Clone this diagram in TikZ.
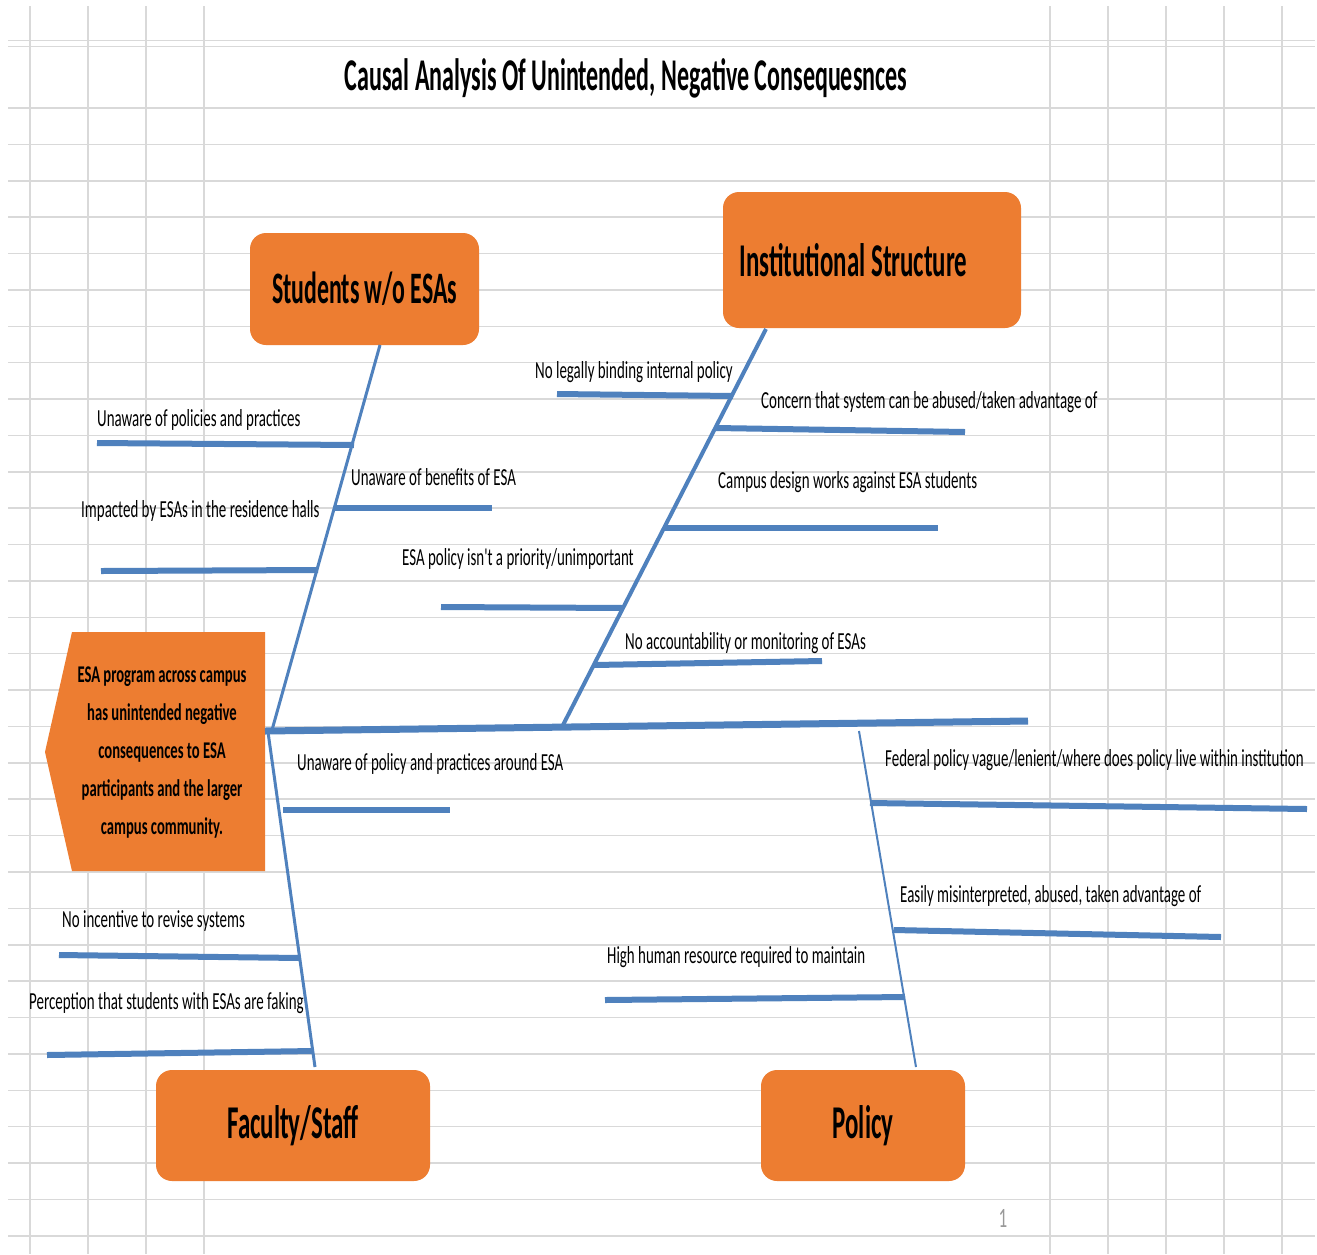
\documentclass[tikz,border=0pt]{standalone}
\usepackage{fontspec}
\newfontfamily\lblfont{Carlito}[FakeStretch=0.61]
\newfontfamily\bigfont{Carlito}[FakeStretch=0.53]
\definecolor{fishorange}{RGB}{237,125,49}
\definecolor{fishblue}{RGB}{79,129,189}
\definecolor{gridgray}{RGB}{217,217,217}
\tikzset{
  gridline/.style={draw=gridgray, line width=1.5pt},
  spine/.style={draw=fishblue, line width=7pt},
  bone/.style={draw=fishblue, line width=3pt},
  rib/.style={draw=fishblue, line width=6pt},
  catbox/.style={fill=fishorange, rounded corners=16pt, inner sep=0pt,
    font=\bigfont\bfseries\fontsize{47}{50}\selectfont},
  lbl/.style={font=\lblfont\fontsize{24.5}{26}\selectfont, inner sep=0pt, anchor=west},
}
\begin{document}
\begin{tikzpicture}[x=1pt,y=-1pt]
\useasboundingbox (0,0) rectangle (1317,1254);
\fill[white] (0,0) rectangle (1317,1254);
% grid
\foreach \yy in {40.5,46.5} \draw[gridline] (8,\yy) -- (1315,\yy);
\foreach \k in {0,...,31} \draw[gridline] (8,108+36.38*\k) -- (1315,108+36.38*\k);
\foreach \xx in {30,88,146,204,1050,1108,1166,1224,1282} \draw[gridline] (\xx,6) -- (\xx,1254);

% title
\node[font=\bigfont\bfseries\fontsize{45.4}{48}\selectfont, inner sep=0pt] (title) at (626,78.5) {Causal Analysis Of Unintended, Negative Consequesnces};

% category boxes
\node[catbox, minimum width=229, minimum height=112, font=\bigfont\bfseries\fontsize{45}{48}\selectfont] (stu) at (364.5,289) {Students w/o ESAs};
\node[catbox, minimum width=298, minimum height=136] (inst) at (872,260) {\mbox{Institutional Structure}\hspace*{37pt}};
\node[catbox, minimum width=274, minimum height=111] (fac) at (293,1125.5) {Faculty/Staff};
\node[catbox, minimum width=204, minimum height=111] (pol) at (863,1125.5) {Policy};

% head
\fill[fishorange] (72,632) -- (265,632) -- (265,871) -- (72,871) -- (45,752) -- cycle;
\node[font=\lblfont\bfseries\fontsize{24}{38}\selectfont, align=center, inner sep=0pt] (head) at (162,753)
  {ESA program across campus\\has unintended negative\\consequences to ESA\\participants and the larger\\campus community.};

% spine and bones
\coordinate (spL) at (265,731);
\coordinate (spR) at (1028,721);
\draw[spine] (spL) -- (spR);

\coordinate (stuTop) at (380,345);  \coordinate (stuEnd) at (272,730);
\coordinate (instTop) at (766,329); \coordinate (instEnd) at (563,725);
\coordinate (facStart) at (268,732); \coordinate (facEnd) at (315,1067);
\coordinate (polStart) at (859,731); \coordinate (polEnd) at (916,1067);
\draw[bone] (stuTop) -- (stuEnd);
\draw[bone, line width=4pt] (instTop) -- (instEnd);
\draw[bone] (facStart) -- (facEnd);
\draw[bone, line width=2pt] (polStart) -- (polEnd);

% ribs: Students
\coordinate (a1) at (97,443);  \coordinate (b1) at (354,445);
\coordinate (a2) at (335,508); \coordinate (b2) at (492,508);
\coordinate (a3) at (101,571); \coordinate (b3) at (318,570);
% ribs: Institutional
\coordinate (a4) at (557,394); \coordinate (b4) at (733,396);
\coordinate (a5) at (716,428); \coordinate (b5) at (965,432);
\coordinate (a6) at (664,528); \coordinate (b6) at (938,528);
\coordinate (a7) at (441,607); \coordinate (b7) at (624,608);
\coordinate (a8) at (594,665); \coordinate (b8) at (822,661);
% ribs: Faculty
\coordinate (a9) at (283,810);   \coordinate (b9) at (450,810);
\coordinate (a10) at (59,955);   \coordinate (b10) at (300,958);
\coordinate (a11) at (47,1055);  \coordinate (b11) at (313,1051);
% ribs: Policy
\coordinate (a12) at (870,803);  \coordinate (b12) at (1307,809);
\coordinate (a13) at (894,930);  \coordinate (b13) at (1221,937);
\coordinate (a14) at (605,1000); \coordinate (b14) at (905,997);
\foreach \i in {1,...,14} \draw[rib] (a\i) -- (b\i);

% labels
\node[lbl] (l1) at (97,420) {Unaware of policies and practices};
\node[lbl] (l2) at (351,477) {Unaware of benefits of ESA};
\node[lbl] (l3) at (81,511) {Impacted by ESAs in the residence halls};
\node[lbl] (l4) at (535,372) {No legally binding internal policy};
\node[lbl] (l5) at (761,402) {Concern that system can be abused/taken advantage of};
\node[lbl] (l6) at (718,482) {Campus design works against ESA students};
\node[lbl] (l7) at (402,559) {ESA policy isn't a priority/unimportant};
\node[lbl] (l8) at (625,643) {No accountability or monitoring of ESAs};
\node[lbl] (l9) at (297,764) {Unaware of policy and practices around ESA};
\node[lbl] (l10) at (62,921) {No incentive to revise systems};
\node[lbl] (l11) at (29,1003) {Perception that students with ESAs are faking};
\node[lbl] (l12) at (885,760) {Federal policy vague/lenient/where does policy live within institution};
\node[lbl] (l13) at (900,896) {Easily misinterpreted, abused, taken advantage of};
\node[lbl] (l14) at (607,957) {High human resource required to maintain};

% page number
\node[font=\lblfont\fontsize{28}{30}\selectfont, text=black!40, inner sep=0pt] (pg) at (1003,1218) {1};
\end{tikzpicture}
\end{document}
